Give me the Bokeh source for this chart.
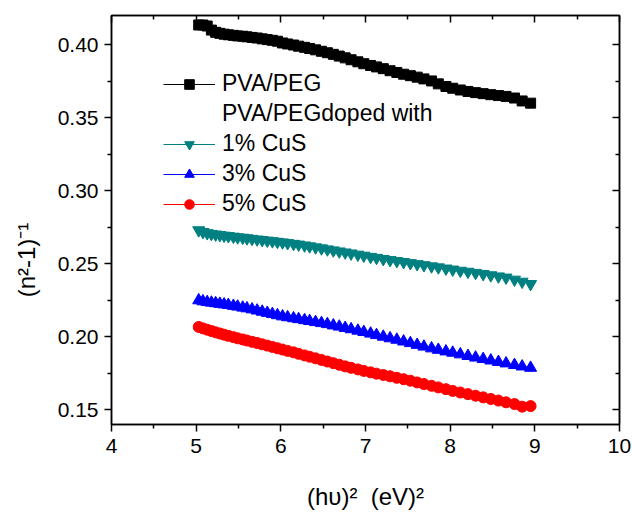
import math
from bokeh.plotting import figure
from bokeh.models import (LinearAxis, FixedTicker, Legend, LegendItem,
                          PrintfTickFormatter, CustomJSTickFormatter, Range1d)
from bokeh.embed import file_html
from bokeh.resources import INLINE

# ---------------- data ----------------
hv2 = [5.03, 5.08, 5.13, 5.18, 5.23, 5.28, 5.33, 5.38, 5.44, 5.49,
       5.55, 5.60, 5.66, 5.72, 5.78, 5.84, 5.90, 5.96, 6.02, 6.08,
       6.15, 6.21, 6.28, 6.34, 6.41, 6.48, 6.55, 6.62, 6.69, 6.76,
       6.83, 6.91, 6.98, 7.06, 7.13, 7.21, 7.29, 7.37, 7.45, 7.53,
       7.61, 7.69, 7.78, 7.86, 7.95, 8.03, 8.12, 8.21, 8.30, 8.39,
       8.48, 8.57, 8.66, 8.76, 8.85, 8.95]

pva_peg = [0.4135, 0.4135, 0.4128, 0.4100, 0.4085, 0.4078, 0.4072, 0.4068, 0.4064, 0.4060,
           0.4058, 0.4054, 0.4050, 0.4046, 0.4040, 0.4035, 0.4030, 0.4024, 0.4012, 0.4005,
           0.3998, 0.3990, 0.3982, 0.3974, 0.3965, 0.3955, 0.3945, 0.3934, 0.3922, 0.3910,
           0.3897, 0.3883, 0.3870, 0.3858, 0.3848, 0.3836, 0.3822, 0.3810, 0.3798, 0.3788,
           0.3778, 0.3766, 0.3752, 0.3732, 0.3714, 0.3702, 0.3690, 0.3680, 0.3672, 0.3665,
           0.3658, 0.3652, 0.3646, 0.3635, 0.3615, 0.3600]

cus1 = [0.2730, 0.2718, 0.2710, 0.2705, 0.2701, 0.2697, 0.2693, 0.2690, 0.2686, 0.2682,
        0.2679, 0.2675, 0.2671, 0.2667, 0.2663, 0.2659, 0.2655, 0.2651, 0.2647, 0.2642,
        0.2637, 0.2632, 0.2626, 0.2620, 0.2613, 0.2606, 0.2599, 0.2592, 0.2585, 0.2578,
        0.2571, 0.2563, 0.2556, 0.2548, 0.2541, 0.2533, 0.2526, 0.2519, 0.2512, 0.2505,
        0.2498, 0.2491, 0.2483, 0.2476, 0.2468, 0.2461, 0.2453, 0.2446, 0.2438, 0.2430,
        0.2422, 0.2414, 0.2406, 0.2392, 0.2378, 0.2362]

cus3 = [0.2250, 0.2243, 0.2238, 0.2234, 0.2230, 0.2226, 0.2222, 0.2218, 0.2212, 0.2207,
        0.2200, 0.2195, 0.2188, 0.2180, 0.2172, 0.2164, 0.2156, 0.2148, 0.2140, 0.2134,
        0.2127, 0.2121, 0.2114, 0.2108, 0.2101, 0.2094, 0.2087, 0.2078, 0.2070, 0.2061,
        0.2052, 0.2042, 0.2033, 0.2022, 0.2012, 0.2001, 0.1990, 0.1980, 0.1968, 0.1957,
        0.1945, 0.1933, 0.1921, 0.1911, 0.1900, 0.1891, 0.1880, 0.1869, 0.1858, 0.1848,
        0.1838, 0.1828, 0.1818, 0.1807, 0.1797, 0.1788]

cus5 = [0.2068, 0.2058, 0.2049, 0.2040, 0.2031, 0.2023, 0.2015, 0.2007, 0.1998, 0.1990,
        0.1982, 0.1975, 0.1966, 0.1958, 0.1949, 0.1940, 0.1931, 0.1922, 0.1913, 0.1904,
        0.1894, 0.1884, 0.1873, 0.1864, 0.1853, 0.1842, 0.1831, 0.1820, 0.1809, 0.1798,
        0.1788, 0.1777, 0.1767, 0.1757, 0.1748, 0.1739, 0.1730, 0.1720, 0.1710, 0.1700,
        0.1688, 0.1677, 0.1665, 0.1654, 0.1642, 0.1630, 0.1619, 0.1608, 0.1597, 0.1586,
        0.1575, 0.1564, 0.1552, 0.1540, 0.1522, 0.1526]

x_major = [4, 5, 6, 7, 8, 9, 10]
x_minor = [4.5, 5.5, 6.5, 7.5, 8.5, 9.5]
y_major = [0.15, 0.20, 0.25, 0.30, 0.35, 0.40]
y_minor = [0.175, 0.225, 0.275, 0.325, 0.375]

labels = ["PVA/PEG", "PVA/PEGdoped with", "1% CuS", "3% CuS", "5% CuS"]
x_title = "(h\u03c5)\u00b2\u00a0 (eV)\u00b2"
# trailing no-break spaces push the visible title below the frame centre, as in the original
y_title = "(n\u00b2-1)\u207b\u00b9" + "\u00a0" * 12

FONT = "Liberation Sans"

# ---------------- figure ----------------
p = figure(width=632, height=516, output_backend="svg", toolbar_location=None,
           title=None, x_range=Range1d(4, 10), y_range=Range1d(0.14, 0.42),
           min_border_left=111, min_border_right=13, min_border_top=15,
           min_border_bottom=92)
p.xgrid.visible = False
p.ygrid.visible = False
p.outline_line_color = "black"
p.outline_line_width = 1.5
p.background_fill_color = "white"
p.border_fill_color = "white"

xt = FixedTicker(ticks=x_major, minor_ticks=x_minor)
yt = FixedTicker(ticks=y_major, minor_ticks=y_minor)

def style(ax, inward):
    ax.axis_line_color = "black"
    ax.axis_line_width = 1.5
    ax.major_tick_line_width = 1.5
    ax.minor_tick_line_width = 1.5
    ax.major_tick_line_color = "black"
    ax.minor_tick_line_color = "black"
    if inward:
        ax.major_tick_in, ax.major_tick_out = 7, 0
        ax.minor_tick_in, ax.minor_tick_out = 4, 0
    else:
        ax.major_tick_in, ax.major_tick_out = 0, 7
        ax.minor_tick_in, ax.minor_tick_out = 0, 4
    ax.major_label_text_font = FONT
    ax.major_label_text_font_size = "21px"
    ax.major_label_text_color = "black"

xa = p.xaxis[0]
ya = p.yaxis[0]
xa.ticker = xt
ya.ticker = yt
style(xa, False)
style(ya, False)
xa.major_label_standoff = 7
ya.major_label_standoff = 6
ya.formatter = PrintfTickFormatter(format="%.2f")
for ax, title, standoff in ((xa, x_title, 27), (ya, y_title, 15)):
    ax.axis_label = title
    ax.axis_label_text_font = FONT
    ax.axis_label_text_font_size = "24px"
    ax.axis_label_text_font_style = "normal"
    ax.axis_label_text_color = "black"
    ax.axis_label_standoff = standoff

top = LinearAxis(ticker=xt, formatter=CustomJSTickFormatter(code="return '';"))
style(top, True)
top.major_label_text_font_size = "0px"
p.add_layout(top, "above")
right = LinearAxis(ticker=yt, formatter=CustomJSTickFormatter(code="return '';"))
style(right, True)
right.major_label_text_font_size = "0px"
p.add_layout(right, "right")

# ---------------- series ----------------
l0 = p.line(hv2, pva_peg, line_color="black", line_width=1)
s0 = p.scatter(hv2, pva_peg, marker="square", size=10, fill_color="black", line_color="black")
dummy = p.line([], [], line_alpha=0)
l1 = p.line(hv2, cus1, line_color="#008080", line_width=1)
s1 = p.scatter(hv2, cus1, marker="inverted_triangle", size=12, fill_color="#008080", line_color="#008080")
l2 = p.line(hv2, cus3, line_color="#0000ff", line_width=1)
s2 = p.scatter(hv2, cus3, marker="triangle", size=12, fill_color="#0000ff", line_color="#0000ff")
l3 = p.line(hv2, cus5, line_color="#ff0000", line_width=1)
s3 = p.scatter(hv2, cus5, marker="circle", size=11, fill_color="#ff0000", line_color="#ff0000")

items = [LegendItem(label=labels[0], renderers=[l0, s0]),
         LegendItem(label=labels[1], renderers=[dummy]),
         LegendItem(label=labels[2], renderers=[l1, s1]),
         LegendItem(label=labels[3], renderers=[l2, s2]),
         LegendItem(label=labels[4], renderers=[l3, s3])]
legend = Legend(items=items, location=(52, 207), glyph_width=52, glyph_height=24,
                label_height=24, spacing=3, padding=0, margin=0, label_standoff=7,
                label_text_font=FONT, label_text_font_size="23px",
                label_text_color="black", border_line_alpha=0,
                background_fill_alpha=0)
p.add_layout(legend)

open("out.html", "w").write(file_html(p, INLINE))
